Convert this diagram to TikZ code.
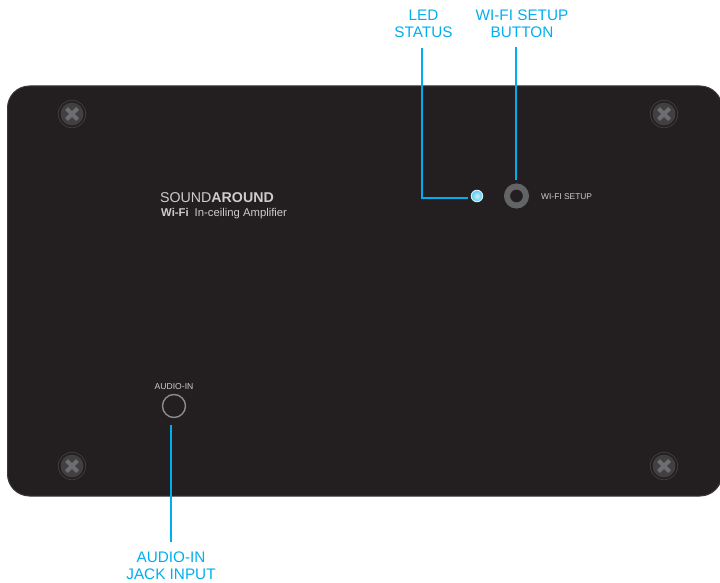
\documentclass[tikz,border=0pt]{standalone}
\usepackage{fontspec}
\setmainfont{Liberation Sans}
\usetikzlibrary{arrows.meta, positioning}
\definecolor{panelblack}{HTML}{231F20}
\definecolor{calloutblue}{HTML}{00AEEF}
\definecolor{screwgrey}{HTML}{6D6E71}
\definecolor{ringgrey}{HTML}{636466}
\tikzset{
  callout/.style={text=calloutblue, font=\fontsize{15.3}{17}\selectfont, align=center, inner sep=0pt},
  leader/.style={draw=calloutblue, line width=1.5pt},
  print/.style={text=white!80!black, inner sep=0pt},
  screwhead/.style={circle, inner sep=0pt, minimum size=23pt, fill=screwgrey!40!panelblack},
  screwring/.style={circle, inner sep=0pt, minimum size=27.5pt, draw=screwgrey!35!panelblack, line width=0.8pt},
  screwx/.style={draw=screwgrey, line width=4.2pt}
}
\newcommand{\screw}[2]{
  \node[screwring] (#1r) at #2 {};
  \node[screwhead] (#1) at #2 {};
  \draw[screwx] ([shift={(-5.5,-5.5)}]#1.center) -- ([shift={(5.5,5.5)}]#1.center);
  \draw[screwx] ([shift={(-5.5,5.5)}]#1.center) -- ([shift={(5.5,-5.5)}]#1.center);
}
\begin{document}
\begin{tikzpicture}[x=1pt, y=-1pt]
  \useasboundingbox (0,0) rectangle (720,583);
  \clip (0,0) rectangle (720,583);
  % Panel
  \draw[draw=screwgrey!30!panelblack, fill=panelblack, line width=1pt, rounded corners=22pt] (7.5,86) rectangle (722,496);
  % Screws
  \screw{screwtl}{(72,114)}
  \screw{screwtr}{(664,114)}
  \screw{screwbl}{(72,466)}
  \screw{screwbr}{(664,466)}
  % Printed text
  \node[print, anchor=base west, font=\fontsize{14.2}{16}\selectfont] (brand) at (160,202) {SOUND\textbf{AROUND}};
  \node[print, anchor=base west, font=\fontsize{11.3}{13}\selectfont] (model) at (161,216) {\textbf{Wi-Fi}\hspace{6pt}In-ceiling Amplifier};
  \node[print, anchor=base west, font=\fontsize{8.4}{9}\selectfont] (setuptext) at (541,199) {WI-FI SETUP};
  \node[print, anchor=base, font=\fontsize{8.6}{9}\selectfont] (audiotext) at (174,389) {AUDIO-IN};
  % LED, button and jack
  \node[circle, inner sep=0pt, minimum size=11.5pt, inner color=calloutblue!20!white, outer color=calloutblue!65!white, draw=calloutblue!20!white, line width=1pt] (led) at (477,196) {};
  \node[circle, inner sep=0pt, minimum size=19pt, draw=ringgrey, line width=6pt] (button) at (516.5,196) {};
  \node[circle, inner sep=0pt, minimum size=23pt, draw=screwgrey!80!white, line width=1.4pt] (jack) at (174,406) {};
  % Callouts
  \node[callout] (ledlabel) at (423.5,23.5) {LED\\STATUS};
  \node[callout] (buttonlabel) at (522,23.5) {WI-FI SETUP\\BUTTON};
  \node[callout] (jacklabel) at (171,566) {AUDIO-IN\\JACK INPUT};
  \coordinate (ledtop) at (422,48);
  \coordinate (ledend) at (468,198);
  \coordinate (buttontop) at (516,47);
  \coordinate (buttonend) at (516,180);
  \coordinate (jacktop) at (171,425);
  \coordinate (jackend) at (171,542);
  \draw[leader] (ledtop) |- (ledend);
  \draw[leader] (buttontop) -- (buttonend);
  \draw[leader] (jacktop) -- (jackend);
\end{tikzpicture}
\end{document}
